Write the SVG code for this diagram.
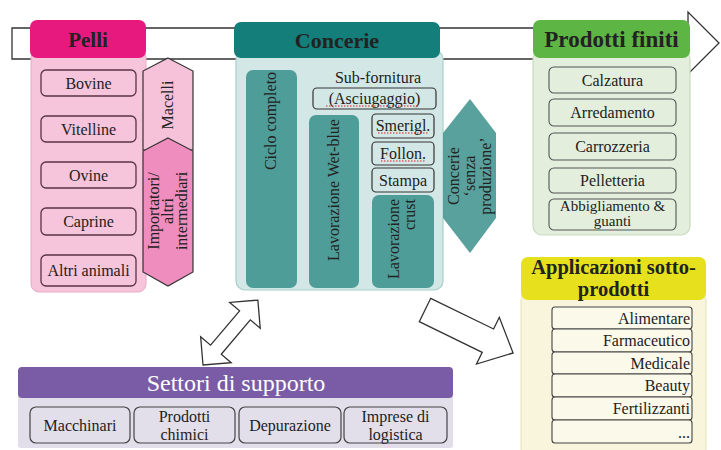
<svg xmlns="http://www.w3.org/2000/svg" width="721" height="450" viewBox="0 0 721 450">
<style>
text{font-family:"Liberation Serif","Times New Roman",serif;fill:#222;font-size:16px}
.c{text-anchor:middle}
.e{text-anchor:end}
.h{font-weight:bold;text-anchor:middle}
.ib{stroke:#5a3344;stroke-width:1.3;fill:#f6c5db}
.ig{stroke:#555;stroke-width:1.1;fill:#e3eedc}
.iy{stroke:#444;stroke-width:1.1;fill:#fbf9ea}
.ip{stroke:#444;stroke-width:1.2;fill:#e3dfea}
.ic{stroke:#333;stroke-width:1.2;fill:#d3e8e6}
.bar{fill:#4f9d99}
.blk{fill:#fff;stroke:#333;stroke-width:1.3}
.sq{stroke:#e02020;stroke-width:1.2;stroke-dasharray:1.5 1.5;fill:none}
</style>
<rect width="721" height="450" fill="#fff"/>
<g id="flow-arrow">
<polygon class="blk" points="12,28 688,28 688,12 719,43 688,74 688,59 12,59"/>
</g>
<g id="pelli">
<rect x="31" y="50" width="115" height="242" rx="8" fill="#f6c5db" stroke="#eaa8c6"/>
<rect x="30" y="20" width="116" height="38" rx="7" fill="#e8197e"/>
<text class="h" x="88" y="47" style="font-size:21px">Pelli</text>
<rect class="ib" x="41" y="70" width="95" height="26" rx="5"/>
<text class="c" x="88.5" y="89">Bovine</text>
<rect class="ib" x="41" y="116" width="95" height="26" rx="5"/>
<text class="c" x="88.5" y="135">Vitelline</text>
<rect class="ib" x="41" y="162" width="95" height="26" rx="5"/>
<text class="c" x="88.5" y="181">Ovine</text>
<rect class="ib" x="41" y="208" width="95" height="27" rx="5"/>
<text class="c" x="88.5" y="227">Caprine</text>
<rect class="ib" x="41" y="255" width="95" height="31" rx="5"/>
<text class="c" x="88.5" y="276">Altri animali</text>
</g>
<g id="macelli">
<polygon points="168,58 193,71 193,150 143,150 143,71" fill="#f5c2da" stroke="#333" stroke-width="1.2"/>
<text class="c" transform="translate(168,105) rotate(-90)" y="5">Macelli</text>
</g>
<g id="importatori">
<polygon points="168,138 193,151 193,272 168,286 143,272 143,151" fill="#ee8dbe" stroke="#333" stroke-width="1.2"/>
<text class="c" transform="translate(168,211) rotate(-90)" y="-9">Importatori/</text>
<text class="c" transform="translate(168,211) rotate(-90)" y="5">altri</text>
<text class="c" transform="translate(168,211) rotate(-90)" y="19">intermediari</text>
</g>
<g id="concerie">
<rect x="236" y="50" width="207" height="240" rx="9" fill="#d3e8e6" stroke="#a8cfcb" stroke-width="1.2"/>
<rect x="234" y="22" width="206" height="36" rx="7" fill="#137e7a"/>
<text class="h" x="337" y="48" style="font-size:22px">Concerie</text>
</g>
<g id="ciclo-completo">
<rect class="bar" x="246" y="70" width="51" height="218" rx="7"/>
<text class="c" transform="translate(271,121) rotate(-90)" y="5">Ciclo completo</text>
</g>
<g id="sub-fornitura">
<text class="c" x="378" y="83">Sub-fornitura</text>
<rect class="ic" x="313" y="88" width="123" height="21" rx="4"/>
<text class="c" x="374.5" y="104">(Asciugaggio)</text>
<path class="sq" d="M326,106 H418"/>
</g>
<g id="wet-blue">
<rect class="bar" x="309" y="115" width="50" height="173" rx="7"/>
<text class="c" transform="translate(334,190) rotate(-90)" y="5">Lavorazione Wet-blue</text>
</g>
<g id="smerigl">
<rect class="ic" x="372" y="114" width="62" height="24" rx="4"/>
<text class="c" x="403" y="131">Smerigl.</text>
<path class="sq" d="M378,133 H428"/>
</g>
<g id="follon">
<rect class="ic" x="372" y="142" width="62" height="23" rx="4"/>
<text class="c" x="403" y="159">Follon.</text>
<path class="sq" d="M381,161 H425"/>
</g>
<g id="stampa">
<rect class="ic" x="372" y="168" width="62" height="24" rx="4"/>
<text class="c" x="403" y="186">Stampa</text>
</g>
<g id="crust">
<rect class="bar" x="372" y="195" width="62" height="93" rx="7"/>
<text class="e" transform="translate(404,199) rotate(-90)" y="-5">Lavorazione</text>
<text class="e" transform="translate(404,199) rotate(-90)" y="11">crust</text>
</g>
<g id="senza-produzione">
<polygon points="470,99 496,133 496,218 470,253 443,218 443,133" fill="#58a19d"/>
<text class="c" transform="translate(470,176) rotate(-90)" y="-11">Concerie</text>
<text class="c" transform="translate(470,176) rotate(-90)" y="5">‘senza</text>
<text class="c" transform="translate(470,176) rotate(-90)" y="21">produzione’</text>
</g>
<g id="prodotti-finiti">
<rect x="533" y="50" width="157" height="185" rx="9" fill="#e3eedc" stroke="#c9dcc0" stroke-width="1.2"/>
<rect x="533" y="20" width="157" height="38" rx="7" fill="#5db544"/>
<text class="h" x="611.5" y="47" style="font-size:23px">Prodotti finiti</text>
<rect class="ig" x="549" y="67" width="127" height="26" rx="5"/>
<text class="c" x="612.5" y="86">Calzatura</text>
<rect class="ig" x="549" y="99" width="127" height="27" rx="5"/>
<text class="c" x="612.5" y="118">Arredamento</text>
<rect class="ig" x="549" y="133" width="127" height="27" rx="5"/>
<text class="c" x="612.5" y="152">Carrozzeria</text>
<rect class="ig" x="549" y="168" width="127" height="25" rx="5"/>
<text class="c" x="612.5" y="186">Pelletteria</text>
<rect class="ig" x="549" y="199" width="127" height="31" rx="5"/>
<text class="c" x="612.5" y="211" style="font-size:15px">Abbigliamento &amp;</text>
<text class="c" x="612.5" y="226" style="font-size:15px">guanti</text>
</g>
<g id="applicazioni">
<rect x="521" y="292" width="185" height="165" rx="9" fill="#f8f5dc" stroke="#e8e4c0" stroke-width="1.2"/>
<rect x="521" y="257" width="185" height="43" rx="7" fill="#e6e11c"/>
<text class="h" x="613.5" y="274" style="font-size:20.5px">Applicazioni sotto-</text>
<text class="h" x="613.5" y="296" style="font-size:20.5px">prodotti</text>
<rect class="iy" x="552" y="307" width="140" height="22" rx="3"/>
<text class="e" x="690" y="324">Alimentare</text>
<rect class="iy" x="552" y="329" width="140" height="23" rx="3"/>
<text class="e" x="690" y="346">Farmaceutico</text>
<rect class="iy" x="552" y="352" width="140" height="22" rx="3"/>
<text class="e" x="690" y="369">Medicale</text>
<rect class="iy" x="552" y="374" width="140" height="23" rx="3"/>
<text class="e" x="690" y="391">Beauty</text>
<rect class="iy" x="552" y="397" width="140" height="23" rx="3"/>
<text class="e" x="690" y="414">Fertilizzanti</text>
<rect class="iy" x="552" y="420" width="140" height="23" rx="3"/>
<text class="e" x="690" y="438">...</text>
</g>
<g id="settori">
<rect x="18" y="390" width="435" height="58" rx="3" fill="#e3dfea"/>
<rect x="18" y="367" width="435" height="31" rx="4" fill="#7a5ca6"/>
<text class="c" x="236" y="391" style="font-size:24px;fill:#fff">Settori di supporto</text>
<rect class="ip" x="30" y="407" width="100" height="36" rx="6"/>
<text class="c" x="80" y="431">Macchinari</text>
<rect class="ip" x="134" y="407" width="101" height="36" rx="6"/>
<text class="c" x="184.5" y="422">Prodotti</text>
<text class="c" x="184.5" y="440">chimici</text>
<rect class="ip" x="239" y="407" width="102" height="36" rx="6"/>
<text class="c" x="290" y="431">Depurazione</text>
<rect class="ip" x="344" y="407" width="103" height="36" rx="6"/>
<text class="c" x="395.5" y="422">Imprese di</text>
<text class="c" x="395.5" y="440">logistica</text>
</g>
<g id="connectors">
<polygon class="blk" transform="translate(203,365) rotate(-49.8)" points="0,0 20,-20 20,-7 65,-7 65,-20 85,0 65,20 65,7 20,7 20,20"/>
<polygon class="blk" transform="translate(425,310) rotate(26)" points="0,-13 70,-13 70,-26 98,0 70,26 70,13 0,13"/>
</g>
</svg>
